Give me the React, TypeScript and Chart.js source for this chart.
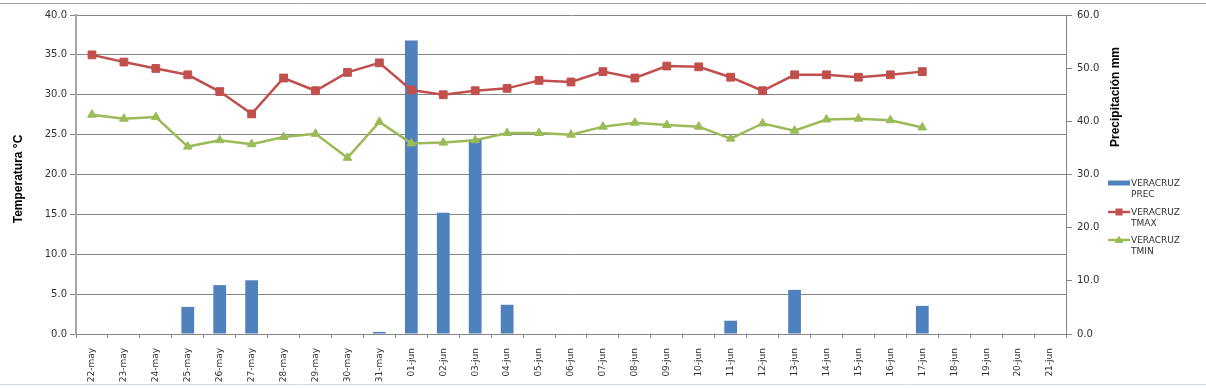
import React, { useEffect, useRef } from 'react';
import { Chart, registerables } from 'chart.js';

Chart.register(...registerables);

const categories = [
  '22-may', '23-may', '24-may', '25-may', '26-may', '27-may', '28-may', '29-may', '30-may', '31-may',
  '01-jun', '02-jun', '03-jun', '04-jun', '05-jun', '06-jun', '07-jun', '08-jun', '09-jun', '10-jun',
  '11-jun', '12-jun', '13-jun', '14-jun', '15-jun', '16-jun', '17-jun', '18-jun', '19-jun', '20-jun', '21-jun',
];

const precValues = [
  0, 0, 0, 5.1, 9.2, 10.1, 0, 0, 0, 0.4,
  55.2, 22.8, 36.6, 5.5, 0, 0, 0, 0, 0, 0,
  2.5, 0, 8.3, 0, 0, 0, 5.3, 0, 0, 0, 0,
];

const tmaxValues = [
  35.0, 34.1, 33.3, 32.5, 30.4, 27.6, 32.1, 30.5, 32.8, 34.0,
  30.6, 30.0, 30.5, 30.8, 31.8, 31.6, 32.9, 32.1, 33.6, 33.5,
  32.2, 30.5, 32.5, 32.5, 32.2, 32.5, 32.9, null, null, null, null,
];

const tminValues = [
  27.5, 27.0, 27.2, 23.5, 24.3, 23.8, 24.7, 25.1, 22.1, 26.6,
  23.9, 24.0, 24.3, 25.2, 25.2, 25.0, 26.0, 26.5, 26.2, 26.0,
  24.5, 26.4, 25.5, 26.9, 27.0, 26.8, 25.9, null, null, null, null,
];

const seriesNames = ['VERACRUZ PREC', 'VERACRUZ TMAX', 'VERACRUZ TMIN'];
const leftTitle = 'Temperatura °C';
const rightTitle = 'Precipitación mm';

const BLUE = '#4F81BD';
const RED = '#C0504D';
const GREEN = '#9BBB59';
const GRID = '#868686';
const TEXT = '#303030';
const FONT = "'DejaVu Sans', sans-serif";

const overlayPlugin = {
  id: 'overlay',
  afterDraw(chart: any) {
    const ctx = chart.ctx;
    const area = chart.chartArea;
    ctx.save();
    // Spreadsheet edges
    ctx.strokeStyle = '#a0a0a0';
    ctx.lineWidth = 1;
    ctx.beginPath();
    ctx.moveTo(0, 3.5);
    ctx.lineTo(chart.width, 3.5);
    ctx.stroke();
    ctx.strokeStyle = '#d0d8e0';
    ctx.beginPath();
    ctx.moveTo(0, 384.5);
    ctx.lineTo(chart.width, 384.5);
    ctx.stroke();

    // Axis titles
    ctx.fillStyle = '#000';
    ctx.font = "bold 12px 'Liberation Sans', Arial, sans-serif";
    ctx.textAlign = 'center';
    ctx.textBaseline = 'middle';
    ctx.save();
    ctx.translate(19, 179);
    ctx.rotate(-Math.PI / 2);
    ctx.fillText(leftTitle, 0, 0);
    ctx.restore();
    ctx.save();
    ctx.translate(area.right + 50, 97);
    ctx.rotate(-Math.PI / 2);
    ctx.fillText(rightTitle, 0, 0);
    ctx.restore();

    // Legend
    const lx = 1108;
    const ys = [183, 212, 240];
    const colors = [BLUE, RED, GREEN];
    ctx.font = `9px ${FONT}`;
    ctx.textAlign = 'left';
    ctx.textBaseline = 'middle';
    seriesNames.forEach((name, i) => {
      const y = ys[i];
      ctx.strokeStyle = colors[i];
      ctx.fillStyle = colors[i];
      if (i === 0) {
        ctx.fillRect(lx, y - 2.5, 22, 5);
      } else {
        ctx.lineWidth = 2.5;
        ctx.beginPath();
        ctx.moveTo(lx, y);
        ctx.lineTo(lx + 22, y);
        ctx.stroke();
        if (i === 1) {
          ctx.fillRect(lx + 7.5, y - 3.5, 7, 7);
        } else {
          ctx.beginPath();
          ctx.moveTo(lx + 11, y - 4.5);
          ctx.lineTo(lx + 15.5, y + 3);
          ctx.lineTo(lx + 6.5, y + 3);
          ctx.closePath();
          ctx.fill();
        }
      }
      const parts = name.split(' ');
      ctx.fillStyle = TEXT;
      ctx.fillText(parts[0], lx + 23, y + 1);
      ctx.fillText(parts[1], lx + 23, y + 12);
    });
    ctx.restore();
  },
};

export default function App() {
  const canvasRef = useRef<HTMLCanvasElement | null>(null);

  useEffect(() => {
    document.body.style.margin = '0';
    const canvas = canvasRef.current;
    if (!canvas) return;
    const chart = new Chart(canvas, {
      type: 'bar',
      data: {
        labels: categories,
        datasets: [
          {
            type: 'line',
            label: seriesNames[1],
            data: tmaxValues,
            yAxisID: 'y',
            borderColor: RED,
            backgroundColor: RED,
            borderWidth: 2.5,
            pointStyle: 'rect',
            pointRadius: 5.5,
            pointBorderWidth: 1,
            pointBorderColor: RED,
            pointBackgroundColor: RED,
            tension: 0,
            spanGaps: false,
            order: 1,
          },
          {
            type: 'line',
            label: seriesNames[2],
            data: tminValues,
            yAxisID: 'y',
            borderColor: GREEN,
            backgroundColor: GREEN,
            borderWidth: 2.5,
            pointStyle: 'triangle',
            pointRadius: 5,
            pointBorderWidth: 1,
            pointBorderColor: GREEN,
            pointBackgroundColor: GREEN,
            tension: 0,
            order: 2,
          },
          {
            type: 'bar',
            label: seriesNames[0],
            data: precValues,
            yAxisID: 'y1',
            backgroundColor: BLUE,
            borderColor: '#6f97c9',
            borderWidth: 0,
            categoryPercentage: 1,
            barPercentage: 0.4,
            order: 3,
          },
        ] as any,
      },
      options: {
        responsive: false,
        maintainAspectRatio: false,
        animation: false,
        layout: { padding: { top: 15, left: 0, right: 0, bottom: 0 } },
        plugins: {
          legend: { display: false },
          tooltip: { enabled: false },
        },
        scales: {
          x: {
            offset: true,
            grid: {
              offset: true,
              drawOnChartArea: false,
              drawTicks: true,
              tickLength: 4,
              color: GRID,
            },
            border: { color: GRID, width: 1 },
            ticks: {
              minRotation: 90,
              maxRotation: 90,
              autoSkip: false,
              padding: 10,
              color: TEXT,
              font: { family: FONT, size: 9 },
            },
            afterFit(scale: any) {
              scale.height = 54;
            },
          },
          y: {
            position: 'left',
            min: 0,
            max: 40,
            ticks: {
              stepSize: 5,
              padding: 3,
              color: TEXT,
              font: { family: FONT, size: 10 },
              callback: (v: any) => Number(v).toFixed(1),
            },
            grid: {
              color: GRID,
              lineWidth: 1,
              drawTicks: true,
              tickLength: 6,
            },
            border: { color: '#a6a6a6', width: 2 },
            afterFit(scale: any) {
              scale.width = 76;
            },
          },
          y1: {
            position: 'right',
            min: 0,
            max: 60,
            ticks: {
              stepSize: 10,
              padding: 5,
              color: TEXT,
              font: { family: FONT, size: 10 },
              callback: (v: any) => Number(v).toFixed(1),
            },
            grid: {
              drawOnChartArea: false,
              drawTicks: true,
              tickLength: 6,
              color: GRID,
            },
            border: { color: GRID, width: 1 },
            afterFit(scale: any) {
              scale.width = 140;
            },
          },
        },
      },
      plugins: [overlayPlugin],
    });
    return () => chart.destroy();
  }, []);

  return (
    <div style={{ position: 'absolute', left: 0, top: 0, width: 1206, height: 388, background: '#fff' }}>
      <canvas ref={canvasRef} width={1206} height={388} style={{ width: 1206, height: 388 }} />
    </div>
  );
}
